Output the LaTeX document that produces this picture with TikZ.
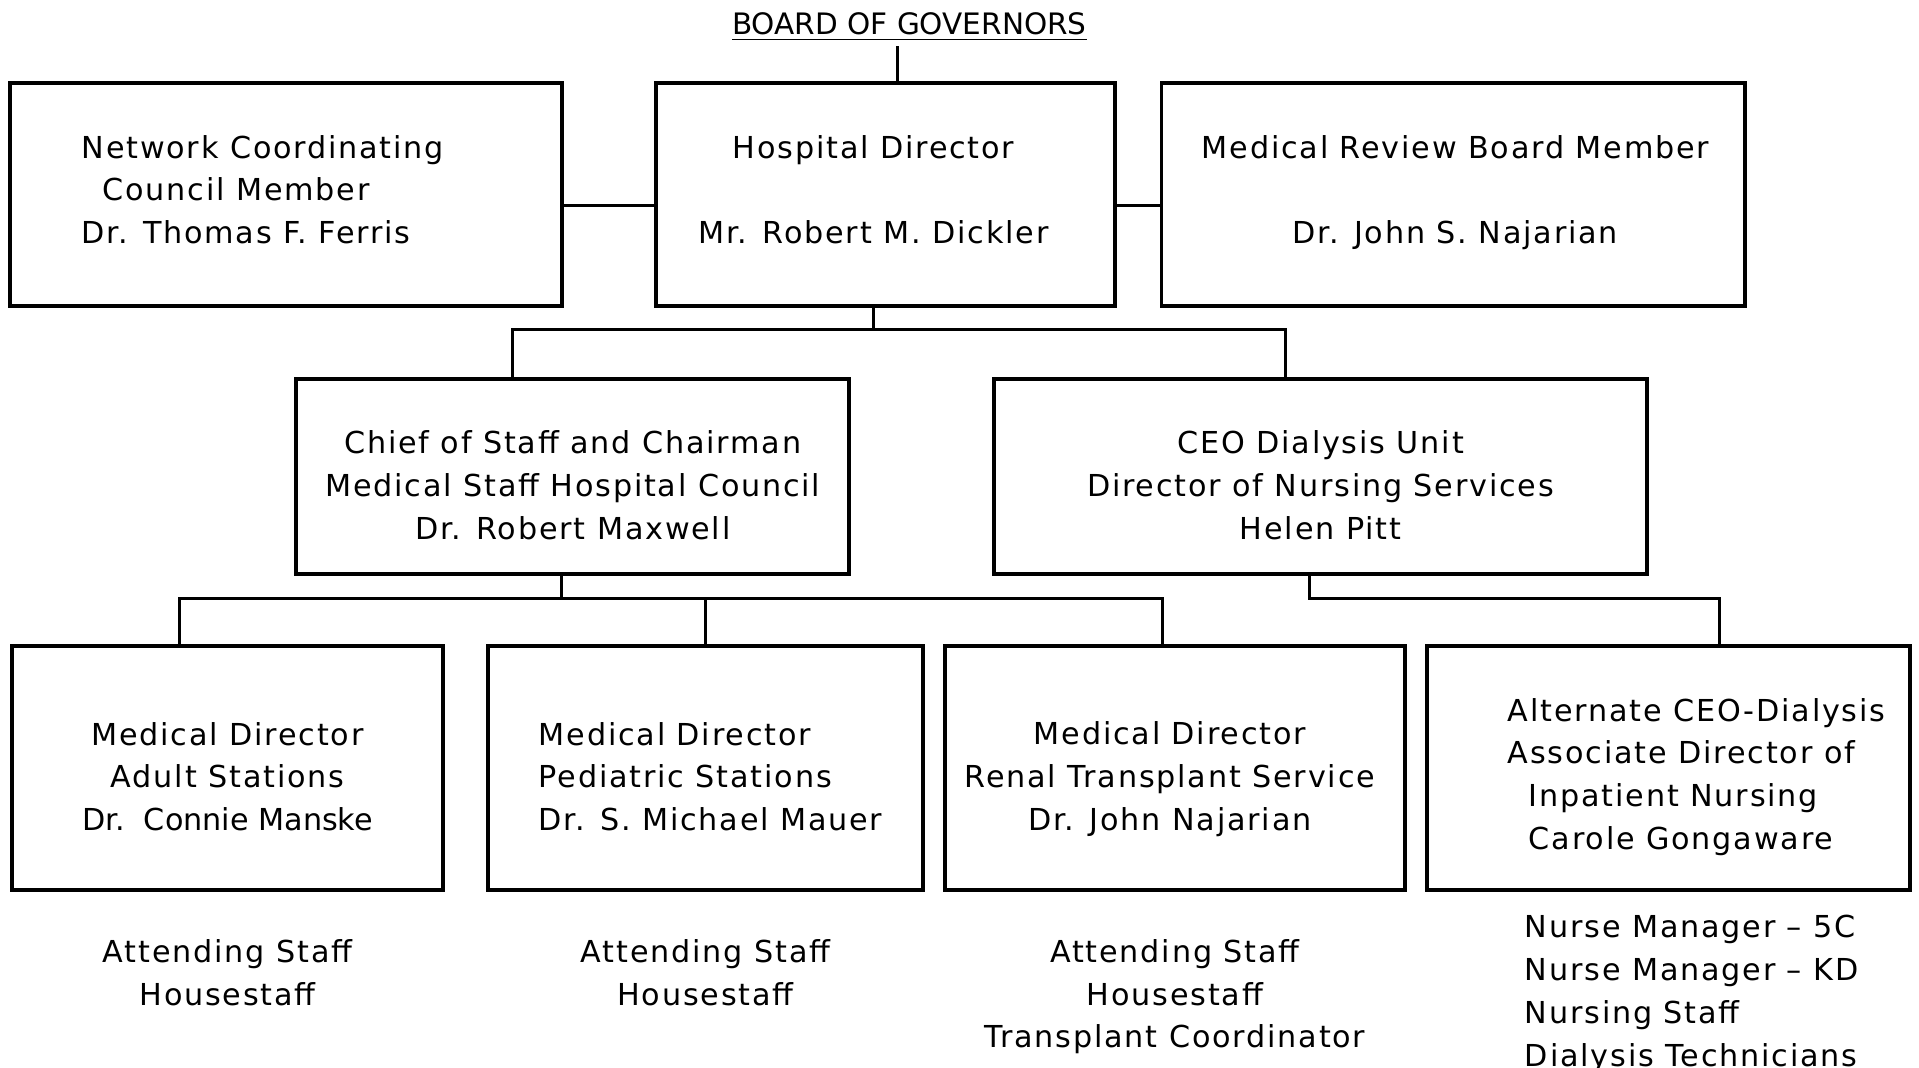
\documentclass[tikz,border=0pt]{standalone}
\usepackage{fontspec}
\setmainfont{DejaVu Sans}[LetterSpace=6]
\newfontfamily\boardfont{DejaVu Sans}
\usetikzlibrary{positioning}

\begin{document}
\begin{tikzpicture}[
  node distance=0.45cm and 0.45cm,
  box/.style={draw, line width=1.1pt, outer sep=0pt},
  boxtext/.style={align=center, font=\fontsize{8.6}{12.2}\selectfont, inner sep=0pt},
  staff/.style={align=center, font=\fontsize{8.6}{12.2}\selectfont, inner sep=2pt},
  link/.style={line width=0.9pt},
]
\useasboundingbox (0,0) rectangle (19.19,-10.67);

\node[font=\boardfont\fontsize{8.4}{10}\selectfont, inner sep=1pt] (board) at (9.094,-0.27) {\underline{BOARD OF GOVERNORS}};

% top row
\node[box, minimum width=4.59cm, minimum height=2.227cm] (hosp) at (8.855,-1.946) {};
\node[box, minimum width=5.52cm, minimum height=2.227cm, left=0.942cm of hosp] (ncc) {};
\node[box, minimum width=5.838cm, minimum height=2.227cm, right=0.465cm of hosp] (mrb) {};
\node[boxtext] (hosptext) at ([shift={(-0.12,0.05)}]hosp.center) {Hospital Director\\[12.2pt]Mr. Robert M. Dickler};
\node[boxtext, align=left] (ncctext) at ([shift={(-0.23,0.05)}]ncc.center) {Network Coordinating\\\hspace*{0.21cm}Council Member\\Dr. Thomas F. Ferris};
\node[boxtext] (mrbtext) at ([shift={(0.02,0.02)}]mrb.center) {Medical Review Board Member\\[12.2pt]Dr. John S. Najarian};

% middle row
\node[box, minimum width=5.532cm, minimum height=1.946cm] (chief) at (5.728,-4.767) {};
\node[box, minimum width=6.536cm, minimum height=1.946cm, right=1.444cm of chief] (ceo) {};
\node[boxtext] (chieftext) at ([yshift=-0.086cm]chief.center) {Chief of Staff and Chairman\\Medical Staff Hospital Council\\Dr. Robert Maxwell};
\node[boxtext] (ceotext) at ([yshift=-0.086cm]ceo.center) {CEO Dialysis Unit\\Director of Nursing Services\\Helen Pitt};

% bottom row
\node[box, minimum width=4.308cm, minimum height=2.436cm] (adult) at (2.276,-7.680) {};
\node[box, minimum width=4.345cm, minimum height=2.436cm, right=0.453cm of adult] (pediatric) {};
\node[box, minimum width=4.602cm, minimum height=2.436cm, right=0.22cm of pediatric] (renal) {};
\node[box, minimum width=4.834cm, minimum height=2.436cm, right=0.22cm of renal] (altceo) {};
\node[boxtext] (adulttext) at ([yshift=-0.086cm]adult.center) {Medical Director\\Adult Stations\\{\boardfont Dr.\ \ Connie Manske}};
\node[boxtext, align=left] (pediatrictext) at ([shift={(0.05,-0.086)}]pediatric.center) {Medical Director\\Pediatric Stations\\Dr. S. Michael Mauer};
\node[boxtext] (renaltext) at ([shift={(-0.05,-0.11)}]renal.center) {Medical Director\\Renal Transplant Service\\Dr. John Najarian};
\node[boxtext, align=left] (altceotext) at ([shift={(0.28,-0.09)}]altceo.center) {Alternate CEO-Dialysis\\Associate Director of\\\hspace*{0.21cm}Inpatient Nursing\\\hspace*{0.21cm}Carole Gongaware};

% staff lists
\node[staff, below=0.417cm of adult] (adultstaff) {Attending Staff\\Housestaff};
\node[staff, below=0.417cm of pediatric] (pedstaff) {Attending Staff\\Housestaff};
\node[staff, below=0.417cm of renal] (renalstaff) {Attending Staff\\Housestaff\\Transplant Coordinator};
\node[staff, align=left, below=0.18cm of altceo, xshift=0.23cm] (nursing) {Nurse Manager -- 5C\\Nurse Manager -- KD\\Nursing Staff\\Dialysis Technicians};

% connectors
\draw[link] ([xshift=0.12cm]hosp.north) -- ([xshift=0.12cm]hosp.north |- board.south);
\draw[link] ([yshift=-0.11cm]ncc.east) -- ([yshift=-0.11cm]hosp.west);
\draw[link] ([yshift=-0.11cm]hosp.east) -- ([yshift=-0.11cm]mrb.west);

\coordinate[below=0.233cm of hosp.south, xshift=-0.12cm] (hbus);
\draw[link] ([xshift=-0.12cm]hosp.south) -- (hbus);
\draw[link] ([xshift=-0.6cm]chief.north) |- (hbus) -| ([xshift=-0.355cm]ceo.north);

\coordinate[below=0.245cm of chief.south, xshift=-0.11cm] (cbus);
\draw[link] ([xshift=-0.11cm]chief.south) -- (cbus);
\draw[link] ([xshift=-0.477cm]adult.north) |- (cbus) -| ([xshift=-0.122cm]renal.north);
\draw[link] (pediatric.north) -- (pediatric.north |- cbus);

\coordinate[below=0.245cm of ceo.south, xshift=-0.11cm] (dbus);
\draw[link] ([xshift=-0.11cm]ceo.south) -- (dbus) -| ([xshift=0.508cm]altceo.north);
\end{tikzpicture}
\end{document}
